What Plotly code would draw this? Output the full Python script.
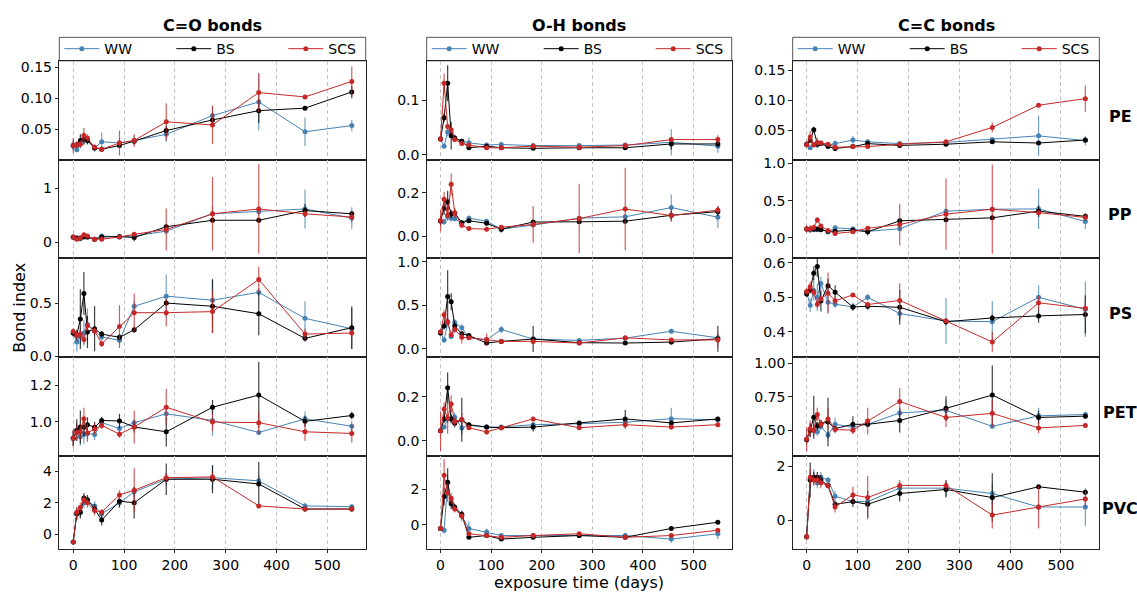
import plotly.graph_objects as go

# ---------------- data ----------------
days = [0, 7, 14, 21, 28, 42, 56, 91, 120, 183, 274, 365, 456, 548]
series_names = ["WW", "BS", "SCS"]
bond_titles = ["C=O bonds", "O-H bonds", "C=C bonds"]
materials = ["PE", "PP", "PS", "PET", "PVC"]
x_ticks = [0, 100, 200, 300, 400, 500]

# PE
CO_PE_WW = [0.024, 0.017, 0.027, 0.033, 0.032, 0.020, 0.030, 0.028, 0.032, 0.042, 0.072, 0.094, 0.046, 0.056]
CO_PE_WW_E = [0.008, 0.004, 0.008, 0.006, 0.006, 0.006, 0.015, 0.008, 0.008, 0.012, 0.016, 0.046, 0.023, 0.009]
CO_PE_BS = [0.024, 0.025, 0.032, 0.035, 0.032, 0.020, 0.018, 0.024, 0.031, 0.048, 0.065, 0.080, 0.084, 0.110]
CO_PE_BS_E = [0.006, 0.005, 0.010, 0.010, 0.006, 0.004, 0.003, 0.004, 0.004, 0.008, 0.010, 0.020, 0.003, 0.010]
CO_PE_SCS = [0.024, 0.025, 0.026, 0.040, 0.036, 0.021, 0.018, 0.028, 0.032, 0.062, 0.057, 0.109, 0.102, 0.127]
CO_PE_SCS_E = [0.012, 0.006, 0.006, 0.012, 0.006, 0.004, 0.003, 0.020, 0.010, 0.030, 0.031, 0.031, 0.003, 0.024]

OH_PE_WW = [0.029, 0.016, 0.042, 0.040, 0.030, 0.025, 0.022, 0.018, 0.019, 0.017, 0.017, 0.018, 0.023, 0.016]
OH_PE_WW_E = [0.004, 0.004, 0.008, 0.006, 0.004, 0.004, 0.010, 0.003, 0.003, 0.003, 0.003, 0.003, 0.024, 0.012]
OH_PE_BS = [0.029, 0.068, 0.131, 0.035, 0.031, 0.025, 0.013, 0.016, 0.013, 0.012, 0.013, 0.013, 0.020, 0.020]
OH_PE_BS_E = [0.004, 0.008, 0.033, 0.025, 0.006, 0.004, 0.003, 0.003, 0.003, 0.003, 0.003, 0.003, 0.010, 0.006]
OH_PE_SCS = [0.029, 0.131, 0.052, 0.046, 0.028, 0.021, 0.018, 0.013, 0.013, 0.016, 0.014, 0.017, 0.028, 0.028]
OH_PE_SCS_E = [0.004, 0.018, 0.006, 0.006, 0.004, 0.003, 0.003, 0.003, 0.003, 0.003, 0.003, 0.003, 0.003, 0.008]

CC_PE_WW = [0.027, 0.021, 0.026, 0.026, 0.028, 0.025, 0.028, 0.034, 0.031, 0.028, 0.030, 0.035, 0.041, 0.033]
CC_PE_WW_E = [0.004, 0.003, 0.004, 0.004, 0.004, 0.003, 0.005, 0.007, 0.003, 0.003, 0.003, 0.003, 0.034, 0.008]
CC_PE_BS = [0.027, 0.033, 0.051, 0.027, 0.028, 0.023, 0.020, 0.023, 0.028, 0.025, 0.027, 0.031, 0.029, 0.034]
CC_PE_BS_E = [0.004, 0.004, 0.005, 0.006, 0.003, 0.003, 0.003, 0.003, 0.003, 0.003, 0.003, 0.003, 0.003, 0.004]
CC_PE_SCS = [0.026, 0.039, 0.026, 0.030, 0.029, 0.027, 0.022, 0.023, 0.023, 0.027, 0.031, 0.055, 0.092, 0.103]
CC_PE_SCS_E = [0.005, 0.010, 0.004, 0.008, 0.004, 0.003, 0.003, 0.004, 0.003, 0.003, 0.003, 0.008, 0.003, 0.022]

# PP
CO_PP_WW = [0.09, 0.07, 0.07, 0.12, 0.10, 0.06, 0.12, 0.10, 0.12, 0.21, 0.53, 0.57, 0.62, 0.45]
CO_PP_WW_E = [0.03, 0.03, 0.03, 0.04, 0.03, 0.02, 0.03, 0.03, 0.03, 0.06, 0.15, 0.08, 0.36, 0.20]
CO_PP_BS = [0.10, 0.08, 0.08, 0.10, 0.10, 0.06, 0.10, 0.11, 0.09, 0.29, 0.41, 0.41, 0.59, 0.53]
CO_PP_BS_E = [0.03, 0.03, 0.03, 0.03, 0.03, 0.02, 0.03, 0.03, 0.07, 0.05, 0.05, 0.05, 0.12, 0.05]
CO_PP_SCS = [0.10, 0.06, 0.08, 0.14, 0.12, 0.06, 0.06, 0.10, 0.15, 0.24, 0.53, 0.62, 0.53, 0.47]
CO_PP_SCS_E = [0.03, 0.03, 0.03, 0.04, 0.03, 0.02, 0.02, 0.03, 0.04, 0.39, 0.68, 0.83, 0.06, 0.10]

OH_PP_WW = [0.070, 0.066, 0.090, 0.083, 0.080, 0.060, 0.083, 0.069, 0.032, 0.051, 0.083, 0.089, 0.132, 0.087]
OH_PP_WW_E = [0.01, 0.015, 0.02, 0.015, 0.01, 0.01, 0.012, 0.01, 0.01, 0.01, 0.01, 0.01, 0.06, 0.05]
OH_PP_BS = [0.070, 0.128, 0.159, 0.102, 0.107, 0.062, 0.071, 0.059, 0.032, 0.065, 0.066, 0.069, 0.096, 0.113]
OH_PP_BS_E = [0.02, 0.03, 0.05, 0.02, 0.02, 0.01, 0.01, 0.01, 0.015, 0.01, 0.01, 0.01, 0.02, 0.02]
OH_PP_SCS = [0.072, 0.170, 0.096, 0.239, 0.107, 0.050, 0.035, 0.032, 0.041, 0.054, 0.081, 0.125, 0.095, 0.120]
OH_PP_SCS_E = [0.05, 0.035, 0.02, 0.05, 0.02, 0.01, 0.01, 0.01, 0.01, 0.085, 0.16, 0.19, 0.03, 0.02]

CC_PP_WW = [0.12, 0.105, 0.11, 0.11, 0.12, 0.08, 0.136, 0.12, 0.088, 0.123, 0.36, 0.386, 0.39, 0.22]
CC_PP_WW_E = [0.03, 0.03, 0.03, 0.03, 0.03, 0.02, 0.02, 0.02, 0.02, 0.03, 0.03, 0.03, 0.27, 0.10]
CC_PP_BS = [0.12, 0.12, 0.12, 0.12, 0.11, 0.09, 0.09, 0.105, 0.083, 0.23, 0.245, 0.27, 0.36, 0.29]
CC_PP_BS_E = [0.03, 0.03, 0.03, 0.03, 0.02, 0.02, 0.02, 0.02, 0.05, 0.03, 0.03, 0.03, 0.08, 0.04]
CC_PP_SCS = [0.12, 0.12, 0.14, 0.24, 0.16, 0.10, 0.06, 0.083, 0.13, 0.18, 0.32, 0.386, 0.34, 0.276]
CC_PP_SCS_E = [0.05, 0.05, 0.04, 0.04, 0.03, 0.02, 0.02, 0.02, 0.03, 0.28, 0.48, 0.60, 0.03, 0.05]

# PS
CO_PS_WW = [0.22, 0.137, 0.19, 0.22, 0.30, 0.24, 0.183, 0.152, 0.47, 0.564, 0.527, 0.60, 0.357, 0.26]
CO_PS_WW_E = [0.03, 0.09, 0.08, 0.12, 0.15, 0.04, 0.03, 0.03, 0.05, 0.20, 0.20, 0.04, 0.16, 0.19]
CO_PS_BS = [0.22, 0.20, 0.35, 0.59, 0.23, 0.26, 0.21, 0.18, 0.25, 0.50, 0.47, 0.40, 0.17, 0.27]
CO_PS_BS_E = [0.03, 0.05, 0.28, 0.20, 0.15, 0.21, 0.03, 0.03, 0.03, 0.03, 0.25, 0.20, 0.03, 0.20]
CO_PS_SCS = [0.235, 0.20, 0.21, 0.16, 0.29, 0.24, 0.12, 0.28, 0.41, 0.41, 0.42, 0.72, 0.21, 0.22]
CO_PS_SCS_E = [0.03, 0.04, 0.04, 0.04, 0.05, 0.03, 0.03, 0.20, 0.18, 0.13, 0.20, 0.12, 0.05, 0.04]

OH_PS_WW = [0.18, 0.10, 0.30, 0.14, 0.30, 0.24, 0.13, 0.10, 0.22, 0.11, 0.094, 0.12, 0.20, 0.124]
OH_PS_WW_E = [0.02, 0.03, 0.05, 0.03, 0.04, 0.04, 0.03, 0.02, 0.04, 0.02, 0.02, 0.02, 0.02, 0.02]
OH_PS_BS = [0.18, 0.26, 0.60, 0.54, 0.26, 0.17, 0.15, 0.064, 0.083, 0.11, 0.068, 0.064, 0.075, 0.113]
OH_PS_BS_E = [0.02, 0.04, 0.30, 0.10, 0.04, 0.03, 0.02, 0.02, 0.02, 0.15, 0.02, 0.02, 0.03, 0.15]
OH_PS_SCS = [0.195, 0.39, 0.31, 0.16, 0.22, 0.13, 0.124, 0.105, 0.083, 0.083, 0.064, 0.124, 0.10, 0.10]
OH_PS_SCS_E = [0.02, 0.05, 0.04, 0.03, 0.04, 0.07, 0.02, 0.07, 0.02, 0.02, 0.02, 0.02, 0.02, 0.08]

CC_PS_WW = [0.515, 0.477, 0.52, 0.50, 0.54, 0.486, 0.48, 0.472, 0.50, 0.453, 0.431, 0.429, 0.50, 0.465]
CC_PS_WW_E = [0.01, 0.02, 0.03, 0.04, 0.02, 0.03, 0.01, 0.01, 0.01, 0.02, 0.067, 0.06, 0.035, 0.08]
CC_PS_BS = [0.51, 0.521, 0.57, 0.59, 0.489, 0.534, 0.515, 0.472, 0.474, 0.471, 0.429, 0.44, 0.446, 0.45]
CC_PS_BS_E = [0.01, 0.01, 0.02, 0.03, 0.03, 0.02, 0.02, 0.01, 0.01, 0.05, 0.01, 0.01, 0.02, 0.055]
CC_PS_SCS = [0.517, 0.531, 0.515, 0.48, 0.495, 0.512, 0.49, 0.507, 0.479, 0.491, 0.431, 0.37, 0.484, 0.468]
CC_PS_SCS_E = [0.01, 0.015, 0.01, 0.01, 0.01, 0.06, 0.01, 0.005, 0.005, 0.05, 0.005, 0.03, 0.02, 0.03]

# PET
CO_PET_WW = [0.91, 0.95, 0.918, 0.93, 0.936, 0.93, 0.995, 0.963, 0.995, 1.043, 1.007, 0.941, 1.016, 0.975]
CO_PET_WW_E = [0.04, 0.04, 0.05, 0.05, 0.03, 0.03, 0.02, 0.02, 0.02, 0.03, 0.085, 0.01, 0.04, 0.03]
CO_PET_BS = [0.91, 0.954, 0.971, 0.97, 0.984, 0.97, 1.007, 1.004, 0.971, 0.945, 1.079, 1.146, 1.002, 1.034]
CO_PET_BS_E = [0.04, 0.06, 0.09, 0.05, 0.04, 0.03, 0.02, 0.04, 0.03, 0.08, 0.04, 0.18, 0.03, 0.02]
CO_PET_SCS = [0.909, 0.941, 0.945, 1.016, 0.939, 0.96, 0.98, 0.932, 0.971, 1.079, 0.998, 0.995, 0.945, 0.936]
CO_PET_SCS_E = [0.05, 0.04, 0.04, 0.06, 0.05, 0.03, 0.02, 0.02, 0.09, 0.10, 0.05, 0.06, 0.05, 0.05]

OH_PET_WW = [0.045, 0.062, 0.10, 0.10, 0.107, 0.058, 0.07, 0.062, 0.062, 0.073, 0.077, 0.084, 0.10, 0.095]
OH_PET_WW_E = [0.01, 0.01, 0.02, 0.02, 0.02, 0.03, 0.01, 0.01, 0.01, 0.01, 0.01, 0.01, 0.05, 0.01]
OH_PET_BS = [0.045, 0.099, 0.24, 0.099, 0.08, 0.095, 0.073, 0.062, 0.059, 0.062, 0.081, 0.099, 0.081, 0.099]
OH_PET_BS_E = [0.01, 0.02, 0.07, 0.02, 0.02, 0.10, 0.01, 0.01, 0.01, 0.02, 0.01, 0.04, 0.01, 0.01]
OH_PET_SCS = [0.044, 0.144, 0.102, 0.167, 0.087, 0.096, 0.059, 0.04, 0.059, 0.099, 0.059, 0.073, 0.062, 0.073]
OH_PET_SCS_E = [0.09, 0.03, 0.07, 0.04, 0.02, 0.03, 0.01, 0.01, 0.01, 0.01, 0.01, 0.02, 0.01, 0.01]

CC_PET_WW = [0.43, 0.50, 0.50, 0.488, 0.53, 0.464, 0.544, 0.524, 0.544, 0.629, 0.648, 0.529, 0.607, 0.617]
CC_PET_WW_E = [0.03, 0.05, 0.04, 0.03, 0.03, 0.03, 0.05, 0.02, 0.02, 0.03, 0.08, 0.01, 0.06, 0.02]
CC_PET_BS = [0.43, 0.50, 0.597, 0.532, 0.549, 0.561, 0.512, 0.544, 0.544, 0.573, 0.663, 0.762, 0.595, 0.605]
CC_PET_BS_E = [0.03, 0.05, 0.16, 0.03, 0.03, 0.18, 0.02, 0.06, 0.02, 0.09, 0.09, 0.22, 0.05, 0.02]
CC_PET_SCS = [0.434, 0.512, 0.50, 0.617, 0.544, 0.583, 0.505, 0.50, 0.568, 0.714, 0.595, 0.626, 0.517, 0.536]
CC_PET_SCS_E = [0.09, 0.06, 0.03, 0.05, 0.03, 0.08, 0.03, 0.03, 0.10, 0.10, 0.07, 0.10, 0.04, 0.02]

# PVC
CO_PVC_WW = [-0.5, 1.3, 1.4, 2.0, 2.1, 1.8, 1.3, 2.0, 2.7, 3.5, 3.6, 3.4, 1.8, 1.75]
CO_PVC_WW_E = [0.1, 0.3, 0.3, 0.3, 0.2, 0.3, 0.2, 0.3, 0.3, 0.4, 0.8, 0.3, 0.2, 0.15]
CO_PVC_BS = [-0.5, 1.3, 1.4, 2.3, 2.2, 1.6, 0.9, 2.1, 2.0, 3.5, 3.5, 3.2, 1.6, 1.6]
CO_PVC_BS_E = [0.1, 0.4, 0.4, 0.3, 0.3, 0.3, 0.35, 0.4, 1.0, 1.0, 0.9, 1.4, 0.15, 0.15]
CO_PVC_SCS = [-0.5, 1.4, 1.7, 2.2, 2.0, 1.5, 1.4, 2.5, 2.8, 3.6, 3.65, 1.8, 1.6, 1.6]
CO_PVC_SCS_E = [0.1, 0.3, 0.3, 0.3, 0.3, 0.3, 0.2, 0.3, 1.4, 0.3, 0.3, 0.1, 0.1, 0.1]

OH_PVC_WW = [-0.2, -0.3, 2.4, 1.3, 1.0, 0.5, -0.2, -0.4, -0.6, -0.6, -0.6, -0.6, -0.8, -0.5]
OH_PVC_WW_E = [0.1, 0.2, 0.4, 0.3, 0.2, 0.3, 0.4, 0.2, 0.1, 0.1, 0.1, 0.1, 0.2, 0.3]
OH_PVC_BS = [-0.2, 1.6, 2.4, 1.2, 1.0, 0.6, -0.7, -0.6, -0.8, -0.7, -0.6, -0.7, -0.2, 0.15]
OH_PVC_BS_E = [0.1, 0.5, 0.8, 0.3, 0.2, 0.2, 0.1, 0.1, 0.1, 0.1, 0.1, 0.1, 0.1, 0.1]
OH_PVC_SCS = [-0.2, 2.8, 1.8, 1.5, 0.9, 0.5, -0.5, -0.6, -0.7, -0.6, -0.5, -0.7, -0.6, -0.3]
OH_PVC_SCS_E = [0.1, 0.9, 0.5, 0.3, 0.2, 0.2, 0.1, 0.1, 0.1, 0.1, 0.1, 0.1, 0.1, 0.1]

CC_PVC_WW = [-0.6, 1.5, 1.6, 1.4, 1.6, 1.5, 0.9, 0.7, 0.7, 1.2, 1.2, 1.0, 0.5, 0.5]
CC_PVC_WW_E = [0.1, 0.3, 0.3, 0.2, 0.2, 0.1, 0.2, 0.1, 0.1, 0.2, 0.3, 0.4, 0.1, 0.7]
CC_PVC_BS = [-0.6, 1.5, 1.6, 1.6, 1.5, 1.3, 0.6, 0.7, 0.6, 1.0, 1.15, 0.85, 1.25, 1.05]
CC_PVC_BS_E = [0.1, 0.65, 0.2, 0.2, 0.2, 0.1, 0.1, 0.2, 0.5, 0.3, 0.3, 0.9, 0.05, 0.05]
CC_PVC_SCS = [-0.6, 1.6, 1.5, 1.5, 1.4, 1.3, 0.5, 0.95, 0.85, 1.3, 1.3, 0.2, 0.5, 0.8]
CC_PVC_SCS_E = [0.1, 0.3, 0.2, 0.2, 0.2, 0.1, 0.2, 0.3, 0.8, 0.2, 0.2, 0.5, 0.8, 0.3]

# y-axis settings per panel (row-major: material x bond): range, dtick, format
Y_RANGES = [
    [[0.001, 0.160], [-0.009, 0.172], [0.001, 0.166]],
    [[-0.285, 1.53], [-0.10, 0.352], [-0.267, 1.05]],
    [[-0.002, 0.923], [-0.094, 1.044], [0.327, 0.615]],
    [[0.814, 1.355], [-0.068, 0.381], [0.31, 1.047]],
    [[-0.94, 5.0], [-1.35, 3.9], [-1.05, 2.4]],
]
Y_DTICKS = [
    [0.05, 0.1, 0.05],
    [1, 0.2, 0.5],
    [0.5, 0.5, 0.1],
    [0.2, 0.2, 0.25],
    [2, 2, 2],
]
Y_FORMATS = [
    [".2f", ".1f", ".2f"],
    ["d", ".1f", ".1f"],
    [".1f", ".1f", ".1f"],
    [".1f", ".1f", ".2f"],
    ["d", "d", "d"],
]

# ---------------- style ----------------
W, H = 1137, 598
FONT = "DejaVu Sans"
COLORS = {"WW": "#4682b4", "BS": "#000000", "SCS": "#c62828"}
ERR_COLORS = {"WW": "rgba(70,130,180,0.75)", "BS": "rgba(0,0,0,0.75)", "SCS": "rgba(198,40,40,0.75)"}
col_px = [(59.3, 365.7), (426.7, 731.7), (792.7, 1099.3)]
row_px = [(58, 159), (159, 259), (259, 360), (360, 461), (461, 556)]
legend_px = (34, 58)
bond_keys = ["CO", "OH", "CC"]

g = globals()
fig = go.Figure()
layout = dict(
    width=W, height=H, margin=dict(l=0, r=0, t=0, b=0),
    paper_bgcolor="white", plot_bgcolor="white",
    font=dict(family=FONT, size=14, color="black"),
    annotations=[], shapes=[],
)

for r, mat in enumerate(materials):
    for c, bk in enumerate(bond_keys):
        idx = r * 3 + c + 1
        xa = "x" if idx == 1 else f"x{idx}"
        ya = "y" if idx == 1 else f"y{idx}"
        for s in series_names:
            vals = g[f"{bk}_{mat}_{s}"]
            errs = g[f"{bk}_{mat}_{s}_E"]
            lg = "legend" if c == 0 else f"legend{c+1}"
            fig.add_trace(go.Scatter(
                x=days, y=vals, mode="lines+markers", name=s,
                line=dict(color=COLORS[s], width=1),
                marker=dict(color=COLORS[s], size=5),
                error_y=dict(type="data", array=errs, visible=True,
                             color=ERR_COLORS[s], thickness=1.2, width=0),
                xaxis=xa, yaxis=ya, legend=lg,
                showlegend=(r == 0),
            ))
        x0, x1 = col_px[c]
        y0, y1 = row_px[r]
        xkey = "xaxis" if idx == 1 else f"xaxis{idx}"
        ykey = "yaxis" if idx == 1 else f"yaxis{idx}"
        layout[xkey] = dict(
            domain=[x0 / W, x1 / W], anchor=ya, range=[-27.4, 575.4],
            tickvals=x_ticks, ticktext=[str(t) for t in x_ticks],
            showticklabels=(r == 4),
            showgrid=True, gridcolor="#c4c4c4", griddash="4px,3px", gridwidth=0.8,
            zeroline=False, showline=True, linecolor="#222", linewidth=1, mirror=True,
            ticks="outside", ticklen=3.5, tickcolor="#222",
            tickfont=dict(size=14, family=FONT),
        )
        layout[ykey] = dict(
            domain=[1 - y1 / H, 1 - y0 / H], anchor=xa, range=Y_RANGES[r][c],
            dtick=Y_DTICKS[r][c], tick0=0, tickformat=Y_FORMATS[r][c],
            showgrid=False, zeroline=False, showline=True, linecolor="#222",
            linewidth=1, mirror=True, ticks="outside", ticklen=3.5, tickcolor="#222",
            tickfont=dict(size=14, family=FONT),
        )

# legends, one per column, inside a drawn frame above each column
for c in range(3):
    key = "legend" if c == 0 else f"legend{c+1}"
    x0, x1 = col_px[c]
    layout["shapes"].append(dict(
        type="rect", xref="paper", yref="paper",
        x0=x0 / W, x1=x1 / W, y0=1 - legend_px[1] / H, y1=1 - legend_px[0] / H,
        line=dict(color="#555", width=1), fillcolor="white", layer="below"))
    layout[key] = dict(
        orientation="h", x=x0 / W, y=1 - (legend_px[0] + legend_px[1]) / 2 / H,
        xanchor="left", yanchor="middle", xref="paper", yref="paper",
        borderwidth=0, bgcolor="rgba(0,0,0,0)",
        font=dict(size=14, family=FONT), entrywidthmode="pixels", entrywidth=62,
        itemwidth=35, tracegroupgap=0,
    )

# column titles
for c, t in enumerate(bond_titles):
    x0, x1 = col_px[c]
    layout["annotations"].append(dict(
        text=f"<b>{t}</b>", x=(x0 + x1) / 2 / W, y=1 - 22 / H, xref="paper", yref="paper",
        showarrow=False, font=dict(size=16, family=FONT), xanchor="center", yanchor="middle"))

# row labels
for r, m in enumerate(materials):
    y0, y1 = row_px[r]
    layout["annotations"].append(dict(
        text=f"<b>{m}</b>", x=1120 / W, y=1 - ((y0 + y1) / 2 + 6) / H, xref="paper", yref="paper",
        showarrow=False, font=dict(size=16, family=FONT), xanchor="center", yanchor="middle"))

layout["annotations"].append(dict(
    text="Bond index", x=20 / W, y=1 - 310 / H, xref="paper", yref="paper", textangle=-90,
    showarrow=False, font=dict(size=16, family=FONT), xanchor="center", yanchor="middle"))
layout["annotations"].append(dict(
    text="exposure time (days)", x=(col_px[1][0] + col_px[1][1]) / 2 / W, y=0,
    xref="paper", yref="paper", yshift=-4,
    showarrow=False, font=dict(size=16, family=FONT), xanchor="center", yanchor="bottom"))

fig.update_layout(**layout)
fig.write_html("out.html")
